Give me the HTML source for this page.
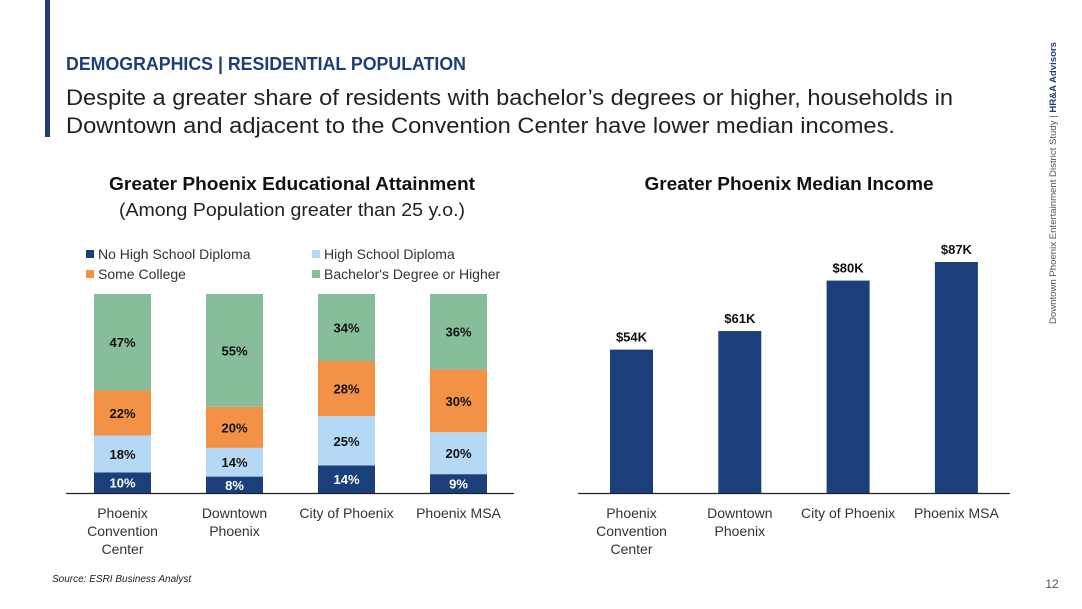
<!DOCTYPE html>
<html><head><meta charset="utf-8"><style>
html,body{margin:0;padding:0;background:#fff;}
svg{display:block;font-family:"Liberation Sans",sans-serif;}
</style></head><body>
<svg id="s" width="1082" height="609" viewBox="0 0 1082 609">
<rect x="45" y="0" width="5" height="137" fill="#1f3e78"/>
<text x="66" y="70" font-size="18" font-weight="bold" fill="#1f3e78" textLength="400" lengthAdjust="spacingAndGlyphs">DEMOGRAPHICS | RESIDENTIAL POPULATION</text>
<text x="66" y="105" font-size="22" fill="#222" textLength="887" lengthAdjust="spacingAndGlyphs">Despite a greater share of residents with bachelor’s degrees or higher, households in</text>
<text x="66" y="133" font-size="22" fill="#222" textLength="829" lengthAdjust="spacingAndGlyphs">Downtown and adjacent to the Convention Center have lower median incomes.</text>
<text transform="translate(1056,324) rotate(-90)" font-size="9" fill="#555" textLength="282" lengthAdjust="spacingAndGlyphs">Downtown Phoenix Entertainment District Study  |  <tspan font-weight="bold" fill="#1f3e78">HR&amp;A Advisors</tspan></text>
<text x="292" y="190" font-size="18" font-weight="bold" fill="#111" text-anchor="middle" textLength="366" lengthAdjust="spacingAndGlyphs">Greater Phoenix Educational Attainment</text>
<text x="292" y="216" font-size="18" fill="#222" text-anchor="middle" textLength="346" lengthAdjust="spacingAndGlyphs">(Among Population greater than 25 y.o.)</text>
<text x="789" y="190" font-size="18" font-weight="bold" fill="#111" text-anchor="middle" textLength="289" lengthAdjust="spacingAndGlyphs">Greater Phoenix Median Income</text>
<g id="legend"></g>
<g id="edu"></g>
<g id="inc"></g>
<text x="52" y="582" font-size="10" font-style="italic" fill="#222">Source: ESRI Business Analyst</text>
<text x="1052" y="588" font-size="12" fill="#555" text-anchor="middle">12</text>
</svg>
<script>
const eduCategories=[["Phoenix","Convention","Center"],["Downtown","Phoenix"],["City of Phoenix"],["Phoenix MSA"]];
const noHS=[10,8,14,9];
const hsDiploma=[18,14,25,20];
const someCollege=[22,20,28,30];
const bachelors=[47,55,34,36];
const seriesNames=["No High School Diploma","High School Diploma","Some College","Bachelor's Degree or Higher"];
const seriesColors=["#1b3f7a","#b5d8f4","#f39146","#88bd9b"];
const incCategories=[["Phoenix","Convention","Center"],["Downtown","Phoenix"],["City of Phoenix"],["Phoenix MSA"]];
const income=[54,61,80,87];

const NS="http://www.w3.org/2000/svg";
function mk(parent,tag,attrs,text){const e=document.createElementNS(NS,tag);for(const k in attrs)e.setAttribute(k,attrs[k]);if(text!==undefined)e.textContent=text;parent.appendChild(e);return e;}

const lg=document.getElementById('legend');
const legPos=[[86,254],[312,254],[86,274],[312,274]];
[0,1,2,3].forEach((si,i)=>{
  const [x,y]=legPos[i];
  const r=mk(lg,'rect',{x:x,y:y-4,width:8,height:8,fill:seriesColors[si]});
  
  
  const t=mk(lg,'text',{x:x+12,y:y+5,'font-size':14,fill:'#333'},seriesNames[si]);
  
  
});

const eg=document.getElementById('edu');
const baseY=493, barTop=294, H=baseY-barTop;
const eduX=i=>122.5+112*i, bw=57;
const series=[noHS,hsDiploma,someCollege,bachelors];
const labelColors=["#fff","#111","#111","#111"];
eduCategories.forEach((cat,i)=>{
  const sum=series.reduce((a,s)=>a+s[i],0);
  let y=baseY;
  series.forEach((s,si)=>{
    const h=H*s[i]/sum;
    const r=mk(eg,'rect',{x:eduX(i)-bw/2,y:y-h,width:bw,height:h,fill:seriesColors[si]});
    
    
    const t=mk(eg,'text',{x:eduX(i),y:y-h/2+5,'font-size':13,'font-weight':'bold',fill:labelColors[si],'text-anchor':'middle'},s[i]+'%');
    
    
    y-=h;
  });
  cat.forEach((ln,k)=>{
    const t=mk(eg,'text',{x:eduX(i),y:518+18*k,'font-size':14,fill:'#333','text-anchor':'middle'},ln);
    
    
  });
});
const ax1=mk(eg,'line',{x1:66,x2:514,y1:493.5,y2:493.5,stroke:'#222','stroke-width':1.2});



const ig=document.getElementById('inc');
const incX=i=>631.5+108.3*i, ibw=43;
const yScale=v=>baseY-v*2.655;
income.forEach((v,i)=>{
  const r=mk(ig,'rect',{x:incX(i)-ibw/2,y:yScale(v),width:ibw,height:baseY-yScale(v),fill:'#1b3f7a'});
  
  
  const t=mk(ig,'text',{x:incX(i),y:yScale(v)-8,'font-size':13,'font-weight':'bold',fill:'#111','text-anchor':'middle'},'$'+v+'K');
  
  
  incCategories[i].forEach((ln,k)=>{
    const c=mk(ig,'text',{x:incX(i),y:518+18*k,'font-size':14,fill:'#333','text-anchor':'middle'},ln);
    
    
  });
});
const ax2=mk(ig,'line',{x1:578,x2:1010,y1:493.5,y2:493.5,stroke:'#222','stroke-width':1.2});


</script>
</body></html>
